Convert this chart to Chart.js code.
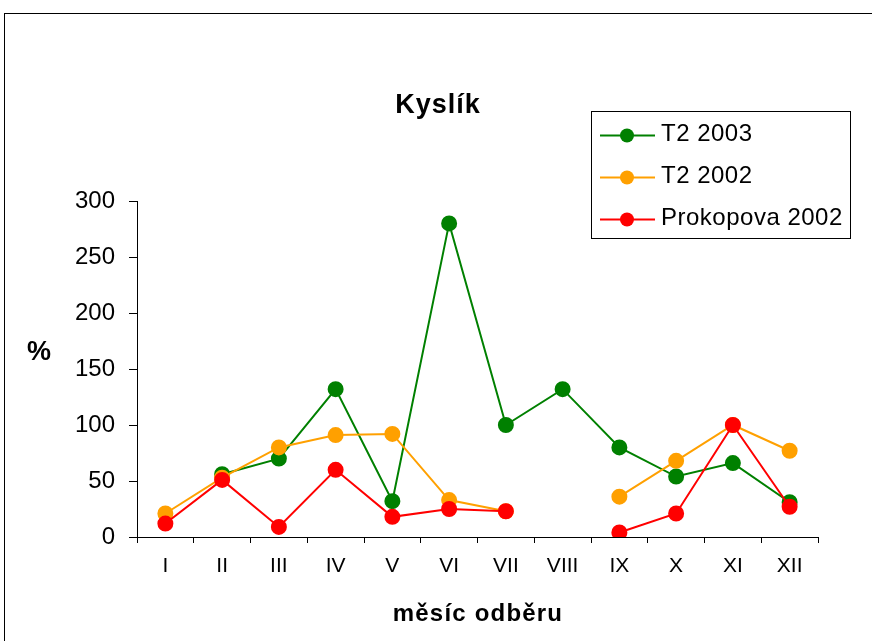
<!DOCTYPE html>
<html lang="cs">
<head>
<meta charset="UTF-8">
<title>Kyslík</title>
<script src="https://cdn.jsdelivr.net/npm/chart.js"></script>
<style>
  html, body { margin: 0; padding: 0; background: #fff; }
  #wrap { position: relative; width: 872px; height: 641px; }
</style>
</head>
<body>
<div id="wrap"><canvas id="kyslikGraf" width="872" height="641"></canvas></div>
<script>
// mesice odberu
const mesice = ['I', 'II', 'III', 'IV', 'V', 'VI', 'VII', 'VIII', 'IX', 'X', 'XI', 'XII'];
const t2_2003 = [null, 56, 70, 132, 32, 280, 100, 132, 80, 54, 66, 31];
const t2_2002 = [21, 53, 80, 91, 92, 33, 23, null, 36, 68, 100, 77];
const prokopova2002 = [12, 51, 9, 60, 18, 25, 23, null, 4, 21, 100, 27];
const yTicks = [0, 50, 100, 150, 200, 250, 300];

const font = "'Liberation Sans', Arial, sans-serif";

function text(ctx, s, x, y, f, spacing, align) {
  ctx.font = f;
  ctx.letterSpacing = spacing + 'px';
  ctx.textAlign = align || 'center';
  ctx.fillText(s, x, y);
}

// popisky, legenda a ramecek kreslime sami
const popisky = {
  id: 'popisky',
  afterDraw(chart) {
    const ctx = chart.ctx;
    ctx.save();
    ctx.strokeStyle = '#000';
    ctx.lineWidth = 1;
    ctx.strokeRect(4.5, 13.5, 900, 700);

    ctx.fillStyle = '#000';
    ctx.textBaseline = 'alphabetic';
    text(ctx, 'Kyslík', 438, 113, 'bold 27px ' + font, 1);
    text(ctx, '%', 39, 360, 'bold 27px ' + font, 0);
    text(ctx, 'měsíc odběru', 478, 621, 'bold 24px ' + font, 1.2);

    // legenda
    ctx.strokeRect(591.5, 111.5, 259, 127);
    chart.data.datasets.forEach((ds, i) => {
      const y = 135.5 + i * 42;
      ctx.strokeStyle = ds.borderColor;
      ctx.lineWidth = 2;
      ctx.beginPath();
      ctx.moveTo(600, y);
      ctx.lineTo(655, y);
      ctx.stroke();
      ctx.fillStyle = ds.backgroundColor;
      ctx.beginPath();
      ctx.arc(627, y, 7, 0, Math.PI * 2);
      ctx.fill();
      ctx.fillStyle = '#000';
      text(ctx, ds.label, 661, y + 5, '24px ' + font, 0.5, 'left');
    });
    ctx.restore();
  }
};

function serie(label, data, barva, poradi) {
  return {
    label: label,
    data: data,
    order: poradi,
    borderColor: barva,
    backgroundColor: barva,
    pointBackgroundColor: barva,
    pointBorderColor: barva,
    borderWidth: 2,
    pointRadius: 7,
    pointHoverRadius: 7,
    tension: 0,
    spanGaps: false
  };
}

new Chart(document.getElementById('kyslikGraf'), {
  type: 'line',
  data: {
    labels: mesice,
    datasets: [
      serie('T2 2003', t2_2003, '#008000', 2),
      serie('T2 2002', t2_2002, '#FFA000', 1),
      serie('Prokopova 2002', prokopova2002, '#FF0000', 0)
    ]
  },
  options: {
    responsive: false,
    animation: false,
    devicePixelRatio: 1,
    layout: { padding: { top: 201, right: 54, left: 0, bottom: 0 } },
    plugins: { legend: { display: false }, title: { display: false }, tooltip: { enabled: false } },
    scales: {
      x: {
        offset: true,
        grid: { offset: true, drawOnChartArea: false, drawTicks: true, tickLength: 6, color: '#000' },
        border: { display: true, color: '#000', width: 1 },
        ticks: { color: '#000', font: { family: font, size: 21 }, padding: 11, maxRotation: 0 },
        afterFit(scale) { scale.height = 641 - 537; }
      },
      y: {
        min: 0,
        max: 300,
        afterBuildTicks(scale) { scale.ticks = yTicks.map(v => ({ value: v })); },
        grid: { drawOnChartArea: false, drawTicks: true, tickLength: 8, color: '#000' },
        border: { display: true, color: '#000', width: 1 },
        ticks: { color: '#000', font: { family: font, size: 24 }, padding: 14 },
        afterFit(scale) { scale.width = 137; }
      }
    }
  },
  plugins: [popisky]
});
</script>
</body>
</html>
